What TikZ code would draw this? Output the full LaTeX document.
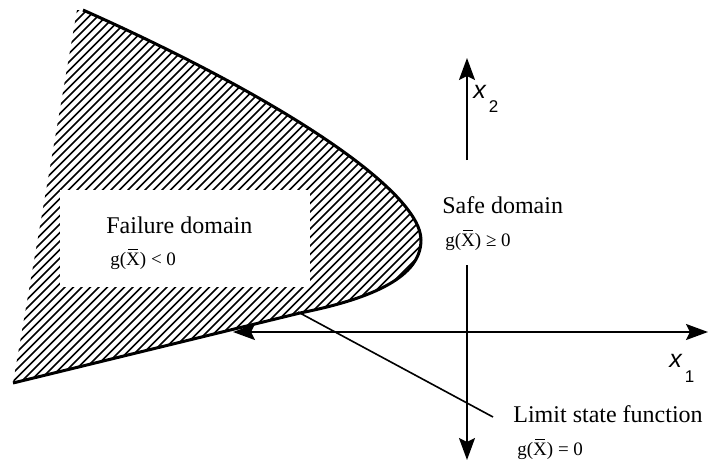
\documentclass[tikz,border=0pt]{standalone}
\usepackage{fontspec}
\setmainfont{Liberation Serif}
\newfontfamily\axisfont{Liberation Sans}
\usetikzlibrary{arrows.meta}
\newcommand{\Xbar}{\ooalign{X\cr\hidewidth\rule[0.8em]{0.5em}{0.05em}\hidewidth\cr}}

\begin{document}
\begin{tikzpicture}[x=0.5pt,y=-0.5pt,
    lbl/.style={anchor=base west,inner sep=0pt,font=\fontsize{12}{14}\selectfont},
    eqn/.style={anchor=base west,inner sep=0pt,font=\fontsize{9.5}{11}\selectfont},
    axlbl/.style={anchor=base west,inner sep=0pt,font=\axisfont\itshape\fontsize{12.5}{14}\selectfont},
    tip/.tip={Stealth[length=11pt,width=8pt,inset=2pt]},
    ax/.style={line width=1pt,-tip},
    biax/.style={line width=1pt,tip-tip},
    hatch/.style={line width=0.85pt},
  ]
  \useasboundingbox (0,0) rectangle (708,461);
  % Failure region (hatched)
  \begin{scope}
    \clip (13,383) -- (77,10) -- (83,10) .. controls (285,100) and (421,192) .. (421,240)
          .. controls (421,276) and (375,298) .. (300,313) -- cycle;
    \foreach \i in {0,...,72}
      \draw[hatch] ({-320+8.5*\i},400) -- ++(420,-420);
  \end{scope}
  \node[fill=white,inner sep=0pt,minimum width=125pt,minimum height=48.5pt,
        anchor=north west] (failbox) at (60,190) {};
  % Limit state curve
  \draw[line width=1.5pt] (83,10) .. controls (285,100) and (421,192) .. (421,240)
        .. controls (421,276) and (375,298) .. (300,313) -- (13,383);
  % Labels
  \node[lbl] (fail)  at (106,233) {Failure domain};
  \node[eqn] (failg) at (110,265) {g(\Xbar) < 0};
  \node[lbl] (safe)  at (442,213) {Safe domain};
  \node[eqn] (safeg) at (445,246) {g(\Xbar) ≥ 0};
  \node[lbl] (lsf)   at (513,422) {Limit state function};
  \node[eqn] (lsfg)  at (517,455) {g(\Xbar) = 0};
  % Axes
  \coordinate (x2top) at (467,58);
  \coordinate (x2mid) at (467,160);
  \coordinate (x2low) at (467,265);
  \coordinate (x2bot) at (467,460);
  \coordinate (x1left)  at (233,332);
  \coordinate (x1right) at (708,332);
  \draw[ax] (x2mid) -- (x2top);
  \draw[ax] (x2low) -- (x2bot);
  \draw[biax] (x1left) -- (x1right);
  \node[axlbl] (x2lbl) at (473,98)  {x\hspace{1.5pt}\raisebox{-7pt}{\upshape\fontsize{8.5}{10}\selectfont 2}};
  \node[axlbl] (x1lbl) at (669,367) {x\hspace{1.5pt}\raisebox{-7.5pt}{\upshape\fontsize{8.5}{10}\selectfont 1}};
  % Leader to the limit state label
  \coordinate (lsfpt)  at (298,312);
  \coordinate (lsfend) at (493,417);
  \draw[line width=0.8pt] (lsfpt) -- (lsfend);
\end{tikzpicture}
\end{document}
